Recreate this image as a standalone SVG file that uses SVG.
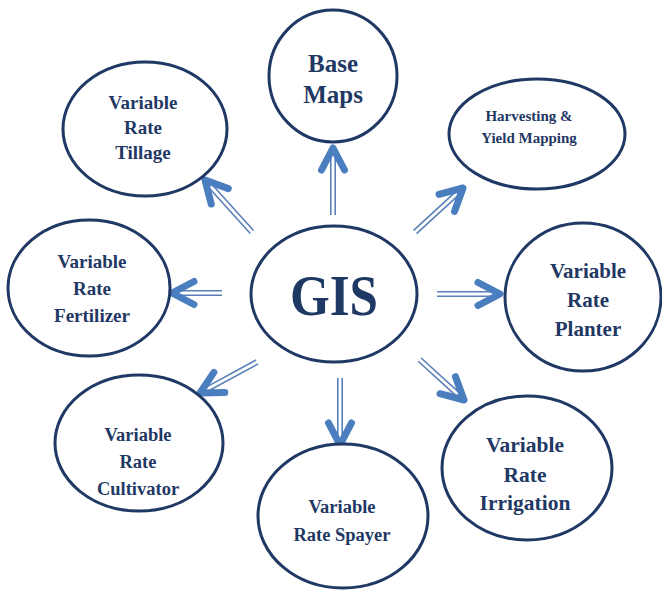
<svg xmlns="http://www.w3.org/2000/svg" width="662" height="600" viewBox="0 0 662 600">
<style>
.node{fill:#fff;stroke:#1f3864;stroke-width:3}
.t{font-family:"Liberation Serif","Times New Roman",serif;font-weight:bold;fill:#1f3864;text-anchor:middle}
.sh{stroke:#5a80b8;stroke-width:1.6;fill:none}
.hd{stroke:#4a7ebf;stroke-width:7;fill:none;stroke-linecap:round;stroke-linejoin:round}
</style>
<rect width="662" height="600" fill="#fff"/>
<g id="connectors">
<g transform="translate(333,148) rotate(-90)"><line class="sh" x1="-67" y1="-2.2" x2="-4" y2="-2.2"/><line class="sh" x1="-67" y1="2.2" x2="-4" y2="2.2"/><polyline class="hd" points="-22,-11.5 0,0 -22,11.5"/></g>
<g transform="translate(463,188) rotate(-42.5)"><line class="sh" x1="-65" y1="-2.2" x2="-4" y2="-2.2"/><line class="sh" x1="-65" y1="2.2" x2="-4" y2="2.2"/><polyline class="hd" points="-22,-11.5 0,0 -22,11.5"/></g>
<g transform="translate(205,180) rotate(-132.1)"><line class="sh" x1="-70" y1="-2.2" x2="-4" y2="-2.2"/><line class="sh" x1="-70" y1="2.2" x2="-4" y2="2.2"/><polyline class="hd" points="-22,-11.5 0,0 -22,11.5"/></g>
<g transform="translate(172,293) rotate(180)"><line class="sh" x1="-50" y1="-2.2" x2="-4" y2="-2.2"/><line class="sh" x1="-50" y1="2.2" x2="-4" y2="2.2"/><polyline class="hd" points="-22,-11.5 0,0 -22,11.5"/></g>
<g transform="translate(200,393) rotate(151.5)"><line class="sh" x1="-65" y1="-2.2" x2="-4" y2="-2.2"/><line class="sh" x1="-65" y1="2.2" x2="-4" y2="2.2"/><polyline class="hd" points="-22,-11.5 0,0 -22,11.5"/></g>
<g transform="translate(340,445) rotate(90)"><line class="sh" x1="-67" y1="-2.2" x2="-4" y2="-2.2"/><line class="sh" x1="-67" y1="2.2" x2="-4" y2="2.2"/><polyline class="hd" points="-22,-11.5 0,0 -22,11.5"/></g>
<g transform="translate(464,400) rotate(42.3)"><line class="sh" x1="-60" y1="-2.2" x2="-4" y2="-2.2"/><line class="sh" x1="-60" y1="2.2" x2="-4" y2="2.2"/><polyline class="hd" points="-22,-11.5 0,0 -22,11.5"/></g>
<g transform="translate(500,294) rotate(0)"><line class="sh" x1="-63" y1="-2.2" x2="-4" y2="-2.2"/><line class="sh" x1="-63" y1="2.2" x2="-4" y2="2.2"/><polyline class="hd" points="-22,-11.5 0,0 -22,11.5"/></g>
</g>
<g id="gis"><ellipse class="node" cx="334" cy="294" rx="83" ry="68"/><text class="t" x="334" y="315" font-size="56" textLength="88" lengthAdjust="spacingAndGlyphs">GIS</text></g>
<g id="base-maps"><ellipse class="node" cx="333" cy="76" rx="64" ry="66"/><text class="t" x="333" y="72" font-size="25">Base</text><text class="t" x="333" y="103" font-size="25">Maps</text></g>
<g id="harvesting"><ellipse class="node" cx="537" cy="134" rx="88" ry="55"/><text class="t" x="529" y="121" font-size="15">Harvesting &amp;</text><text class="t" x="529" y="143" font-size="15">Yield Mapping</text></g>
<g id="tillage"><ellipse class="node" cx="145" cy="129" rx="82" ry="67"/><text class="t" x="143" y="109" font-size="19">Variable</text><text class="t" x="143" y="134" font-size="19">Rate</text><text class="t" x="143" y="159" font-size="19">Tillage</text></g>
<g id="fertilizer"><ellipse class="node" cx="89" cy="288" rx="81" ry="68"/><text class="t" x="92" y="268" font-size="19">Variable</text><text class="t" x="92" y="295" font-size="19">Rate</text><text class="t" x="92" y="322" font-size="19">Fertilizer</text></g>
<g id="planter"><ellipse class="node" cx="583" cy="297" rx="78" ry="74"/><text class="t" x="588" y="278" font-size="21">Variable</text><text class="t" x="588" y="307" font-size="21">Rate</text><text class="t" x="588" y="336" font-size="21">Planter</text></g>
<g id="cultivator"><ellipse class="node" cx="139" cy="443" rx="84" ry="68"/><text class="t" x="138" y="441" font-size="18.5">Variable</text><text class="t" x="138" y="468" font-size="18.5">Rate</text><text class="t" x="138" y="495" font-size="18.5">Cultivator</text></g>
<g id="sprayer"><ellipse class="node" cx="343" cy="516" rx="85" ry="72"/><text class="t" x="342" y="513" font-size="18.5">Variable</text><text class="t" x="342" y="541" font-size="18.5">Rate Spayer</text></g>
<g id="irrigation"><ellipse class="node" cx="527" cy="468" rx="85" ry="72"/><text class="t" x="525" y="452" font-size="21.5">Variable</text><text class="t" x="525" y="482" font-size="21.5">Rate</text><text class="t" x="525" y="510" font-size="21.5">Irrigation</text></g>
</svg>
